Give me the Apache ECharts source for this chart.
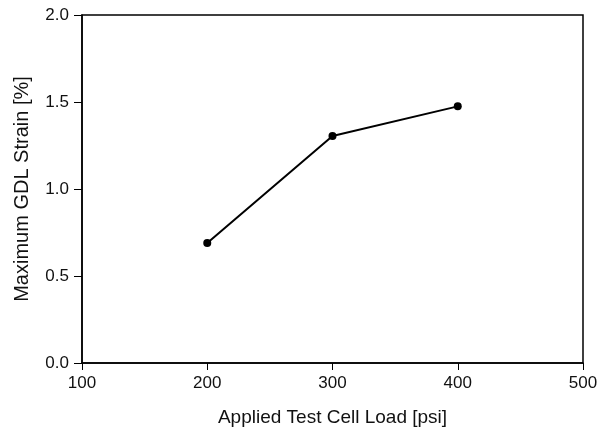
<!DOCTYPE html>
<html>
<head>
<meta charset="utf-8">
<script src="https://cdn.jsdelivr.net/npm/echarts@6/dist/echarts.min.js"></script>
<style>
  html, body { margin: 0; padding: 0; background: #fff; }
  #chart { width: 614px; height: 429px; }
</style>
</head>
<body>
<div id="chart"></div>
<script>
// 数据
var loads = [200, 300, 400];
var strains = [0.69, 1.305, 1.475];

;(function() {
  var myChart = echarts.init(document.querySelector("#chart"));

  var points = loads.map(function(x, i) { return [x, strains[i]]; });

  var fontFamily = "Liberation Sans, Arial, sans-serif";

  var option = {
    animation: false,
    grid: {
      left: 82,
      top: 15,
      right: 31,
      bottom: 66,
      outerBoundsMode: 'none',
      show: true,
      borderColor: '#000',
      borderWidth: 1.5
    },
    xAxis: {
      type: 'value',
      min: 100,
      max: 500,
      interval: 100,
      name: 'Applied Test Cell Load [psi]',
      nameLocation: 'middle',
      nameGap: 45,
      nameTextStyle: { color: '#111', fontSize: 19, fontFamily: fontFamily },
      axisLine: { lineStyle: { color: '#000', width: 1.5 } },
      axisTick: { show: true, length: 7, lineStyle: { color: '#000', width: 1 } },
      axisLabel: { color: '#111', fontSize: 17, fontFamily: fontFamily, margin: 12 },
      splitLine: { show: false }
    },
    yAxis: {
      type: 'value',
      min: 0,
      max: 2,
      interval: 0.5,
      name: 'Maximum GDL Strain [%]',
      nameLocation: 'middle',
      nameGap: 50,
      nameTextStyle: { color: '#111', fontSize: 20, fontFamily: fontFamily },
      axisLine: { lineStyle: { color: '#000', width: 1.5 } },
      axisTick: { show: true, length: 8, lineStyle: { color: '#000', width: 1 } },
      axisLabel: {
        color: '#111', fontSize: 17, fontFamily: fontFamily, margin: 13,
        formatter: function(v) { return v.toFixed(1); }
      },
      splitLine: { show: false }
    },
    series: [
      {
        type: 'line',
        data: points,
        symbol: 'circle',
        symbolSize: 8,
        itemStyle: { color: '#000' },
        lineStyle: { color: '#000', width: 2 }
      }
    ]
  };

  myChart.setOption(option);
  window.addEventListener("resize", function() {
    myChart.resize();
  });
})();
</script>
</body>
</html>
